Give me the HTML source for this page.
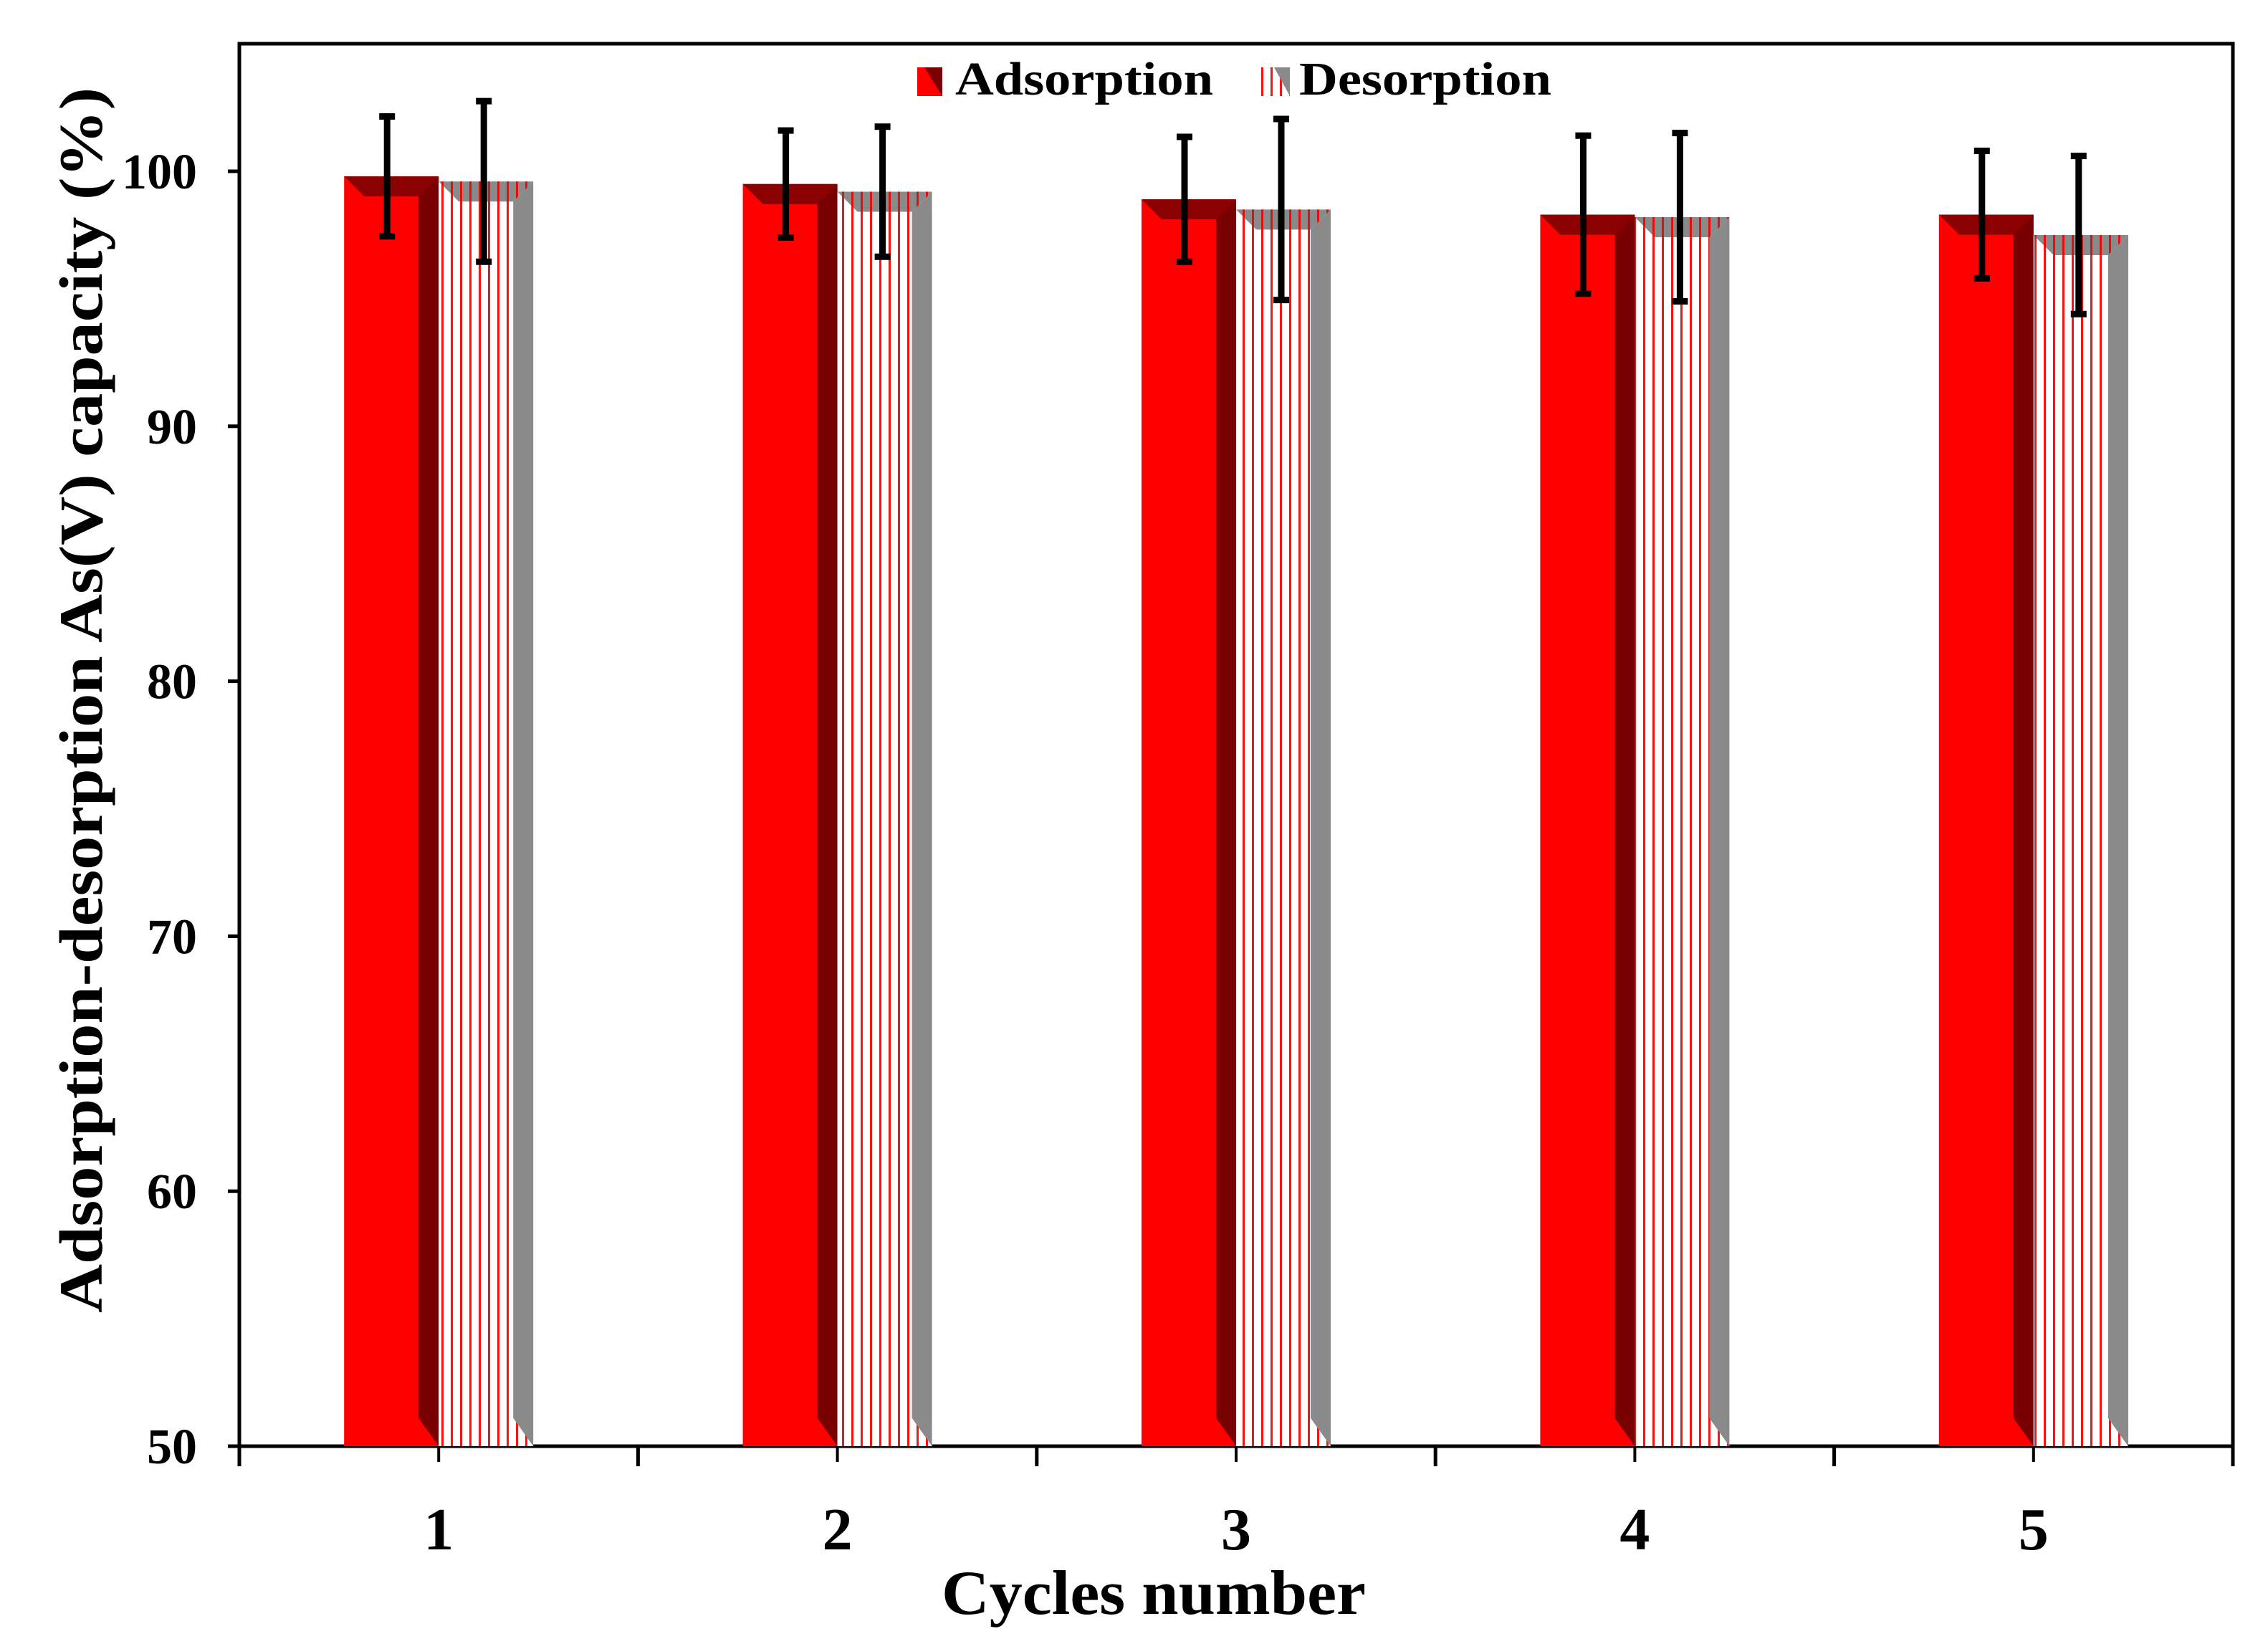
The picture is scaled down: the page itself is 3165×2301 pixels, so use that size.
<!DOCTYPE html>
<html><head><meta charset="utf-8"><style>
html,body{margin:0;padding:0;background:#fff}
svg{display:block;font-family:"Liberation Serif",serif;font-weight:bold}
</style></head><body>
<svg id="chart" width="3165" height="2301" viewBox="0 0 3165 2301" xmlns="http://www.w3.org/2000/svg">
<defs>
<pattern id="stripes" patternUnits="userSpaceOnUse" width="13" height="20"><rect width="13" height="20" fill="#fff"/><rect x="5" width="3" height="20" fill="#ff1010"/></pattern>
<pattern id="stripesG" patternUnits="userSpaceOnUse" width="13" height="20"><rect width="13" height="20" fill="#8a8a8a"/><rect x="5" width="3" height="20" fill="#e01010"/></pattern>
</defs>
<rect x="334" y="61" width="2782" height="1957" fill="none" stroke="#000" stroke-width="5"/>
<g id="axes"></g>
<g id="bars"></g>
<g id="errs"></g>
<g>
<rect x="1280" y="94" width="35" height="40" fill="#ff0000"/>
<polygon points="1290,94 1315,94 1315,134" fill="#7a0000"/>
<text x="1333" y="132" font-size="66" textLength="360" lengthAdjust="spacingAndGlyphs">Adsorption</text>
<rect x="1760" y="94" width="40" height="40" fill="url(#stripes)"/>
<polygon points="1778,94 1800,94 1800,134" fill="#8a8a8a"/>
<text x="1813" y="132" font-size="66" textLength="352" lengthAdjust="spacingAndGlyphs">Desorption</text>
</g>
<text x="1610" y="2252" font-size="88" text-anchor="middle" textLength="592" lengthAdjust="spacingAndGlyphs">Cycles number</text>
<text transform="translate(142,977) rotate(-90)" font-size="86" text-anchor="middle" textLength="1710" lengthAdjust="spacingAndGlyphs">Adsorption-desorption As(V) capacity  (%)</text>
</svg>
<script>
const categories = ["1","2","3","4","5"];
const adsorption = [99.8, 99.5, 98.9, 98.3, 98.3];
const desorption = [99.6, 99.2, 98.5, 98.2, 97.5];
const adsErr = [2.35, 2.1, 2.45, 3.1, 2.5];
const desErr = [3.15, 2.55, 3.55, 3.3, 3.1];
const yTicks = [50, 60, 70, 80, 90, 100];

const NS = "http://www.w3.org/2000/svg";
const X0 = 334, X1 = 3116, Y0 = 2018, Y1 = 239;
const band = (X1 - X0) / categories.length;
const y = v => Y0 - (v - 50) / 50 * (Y0 - Y1);
const xc = i => X0 + band * (i + 0.5);
function mk(tag, attrs, parent) {
  const e = document.createElementNS(NS, tag);
  for (const k in attrs) e.setAttribute(k, attrs[k]);
  parent.appendChild(e);
  return e;
}
const axes = document.getElementById('axes');
const bars = document.getElementById('bars');
const errs = document.getElementById('errs');
yTicks.forEach(v => {
  const t = mk('line', {x1: X0 - 16, x2: X0, y1: y(v), y2: y(v), stroke: '#000', 'stroke-width': 5}, axes);
  
  
  const l = mk('text', {x: 275, y: y(v) + 24, 'font-size': 70, 'text-anchor': 'end'}, axes);
  l.textContent = v;
  
  
});
for (let i = 0; i <= categories.length; i++) {
  const t = mk('line', {x1: X0 + band * i, x2: X0 + band * i, y1: Y0, y2: Y0 + 28, stroke: '#000', 'stroke-width': 5}, axes);
  
  
}
const W = 132, D = 28;
categories.forEach((c, i) => {
  const cx = xc(i);
  const mt = mk('line', {x1: cx, x2: cx, y1: Y0, y2: Y0 + 22, stroke: '#000', 'stroke-width': 4}, axes);
  
  
  const l = mk('text', {x: cx, y: 2162, 'font-size': 84, 'text-anchor': 'middle'}, axes);
  l.textContent = c;
  
  
  const ax = cx - W, at = y(adsorption[i]);
  const g1 = mk('g', {}, bars);
  
  
  mk('rect', {x: ax, y: at, width: W, height: Y0 - at, fill: '#ff0000'}, g1);
  mk('polygon', {points: `${ax},${at} ${ax+W},${at} ${ax+W-D},${at+D} ${ax+D},${at+D}`, fill: '#8b0000'}, g1);
  mk('polygon', {points: `${ax+W-D},${at+D} ${ax+W},${at} ${ax+W},${Y0} ${ax+W-D},${Y0-D*1.4}`, fill: '#780000'}, g1);
  const dx = cx, dt = y(desorption[i]);
  const g2 = mk('g', {}, bars);
  
  
  mk('rect', {x: dx, y: dt, width: W, height: Y0 - dt, fill: 'url(#stripes)'}, g2);
  mk('polygon', {points: `${dx},${dt} ${dx+W},${dt} ${dx+W-D},${dt+D} ${dx+D},${dt+D}`, fill: 'url(#stripesG)'}, g2);
  mk('polygon', {points: `${dx+W-D},${dt+D} ${dx+W},${dt} ${dx+W},${Y0} ${dx+W-D},${Y0-D*1.4}`, fill: '#8a8a8a'}, g2);
  [[ax + W/2 - 6, adsorption[i], adsErr[i], 'error-bar-adsorption-'], [dx + W/2 - 3, desorption[i], desErr[i], 'error-bar-desorption-']].forEach(([ex, v, e, nm]) => {
    const g = mk('g', {stroke: '#000', 'stroke-width': 9}, errs);
    
    
    mk('line', {x1: ex, x2: ex, y1: y(v + e), y2: y(v - e)}, g);
    mk('line', {x1: ex - 11, x2: ex + 11, y1: y(v + e), y2: y(v + e)}, g);
    mk('line', {x1: ex - 11, x2: ex + 11, y1: y(v - e), y2: y(v - e)}, g);
  });
});
</script>
</body></html>
